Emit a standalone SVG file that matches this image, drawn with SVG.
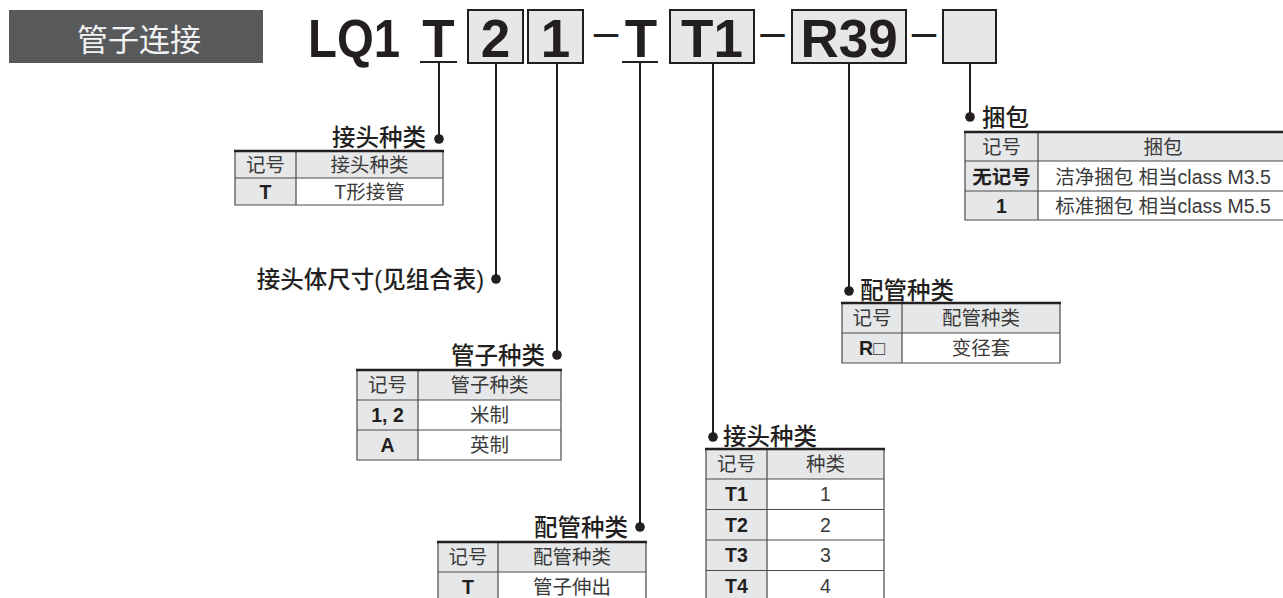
<svg xmlns="http://www.w3.org/2000/svg" width="1283" height="598" viewBox="0 0 1283 598">
<style>
text { font-family: 'Liberation Sans', 'Noto Sans CJK SC', sans-serif; }
.ttl { font-size: 23.5px; fill: #231f20; font-weight: 500; }
.cell { font-size: 19.5px; fill: #3a3a3a; text-anchor: middle; }
.key { font-weight: bold; fill: #231f20; }
.gray { fill: #e6e7e8; }
.white { fill: #ffffff; }
.grid { stroke: #4a4a4a; stroke-width: 1.2; fill: none; }
.top { stroke: #231f20; stroke-width: 2.6; }
.code { font-size: 53px; font-weight: bold; fill: #231f20; text-anchor: middle; }
.dash { font-size: 44px; fill: #231f20; text-anchor: middle; }
.box { fill: #e6e7e8; stroke: #231f20; stroke-width: 2; }
.conn { stroke: #231f20; stroke-width: 2; fill: none; }
.dot { fill: #231f20; }
</style>
<rect width="1283" height="598" fill="#ffffff"/>

<g id="heading">
  <rect x="9" y="10" width="254" height="53" fill="#58595b"/>
  <text x="139" y="51" font-size="31" fill="#f2f2f2" text-anchor="middle">管子连接</text>
</g>

<g id="model-code">
  <text x="308" y="57" font-size="53" font-weight="bold" fill="#231f20" textLength="92" lengthAdjust="spacingAndGlyphs">LQ1</text>
  <text class="code" x="438.5" y="57">T</text>
  <rect class="box" x="468" y="10" width="55" height="53"/>
  <text class="code" x="495.5" y="57">2</text>
  <rect class="box" x="528" y="10" width="55" height="53"/>
  <text class="code" x="555.5" y="57">1</text>
  <text class="dash" x="606" y="47">–</text>
  <text class="code" x="641" y="57">T</text>
  <rect class="box" x="670" y="10" width="84" height="53"/>
  <text class="code" x="712" y="57">T1</text>
  <text class="dash" x="772.5" y="47">–</text>
  <rect class="box" x="792" y="10" width="114" height="53"/>
  <text class="code" x="849" y="57">R39</text>
  <text class="dash" x="924" y="47">–</text>
  <rect class="box" x="943" y="10" width="53" height="53"/>
</g>

<g id="connectors">
  <line class="conn" x1="420" y1="62" x2="457" y2="62"/>
  <line class="conn" x1="622" y1="62" x2="658" y2="62"/>
  <line class="conn" x1="439" y1="62" x2="439" y2="139"/>
  <line class="conn" x1="496" y1="63" x2="496" y2="279"/>
  <line class="conn" x1="557" y1="63" x2="557" y2="355"/>
  <line class="conn" x1="640" y1="62" x2="640" y2="527"/>
  <line class="conn" x1="713" y1="63" x2="713" y2="437"/>
  <line class="conn" x1="849" y1="63" x2="849" y2="291"/>
  <line class="conn" x1="970" y1="63" x2="970" y2="117"/>
  <circle class="dot" cx="439" cy="139" r="4.8"/>
  <circle class="dot" cx="496" cy="279" r="4.8"/>
  <circle class="dot" cx="557" cy="355" r="4.8"/>
  <circle class="dot" cx="640" cy="527" r="4.8"/>
  <circle class="dot" cx="713" cy="437" r="4.8"/>
  <circle class="dot" cx="849" cy="291" r="4.8"/>
  <circle class="dot" cx="970" cy="117" r="4.8"/>
</g>

<g id="joint-type">
  <text class="ttl" x="426" y="146" text-anchor="end">接头种类</text>
  <rect class="gray" x="235" y="151" width="208" height="27"/>
  <rect class="gray" x="235" y="178" width="61" height="27"/>
  <rect class="white" x="296" y="178" width="147" height="27"/>
  <path class="grid" d="M235 151V205H443V151M235 178H443M296 151V205"/>
  <line class="top" x1="234" y1="151" x2="444" y2="151"/>
  <text class="cell" x="265.5" y="171.5">记号</text>
  <text class="cell" x="369.5" y="171.5">接头种类</text>
  <text class="cell key" x="265.5" y="198.5">T</text>
  <text class="cell" x="369.5" y="198.5">T形接管</text>
</g>

<g id="body-size">
  <text class="ttl" x="484" y="288" text-anchor="end">接头体尺寸(见组合表)</text>
</g>

<g id="tube-type">
  <text class="ttl" x="545" y="364" text-anchor="end">管子种类</text>
  <rect class="gray" x="357" y="370" width="204" height="30"/>
  <rect class="gray" x="357" y="400" width="61" height="60"/>
  <rect class="white" x="418" y="400" width="143" height="60"/>
  <path class="grid" d="M357 370V460H561V370M357 400H561M357 430H561M418 370V460"/>
  <line class="top" x1="356" y1="370" x2="562" y2="370"/>
  <text class="cell" x="387.5" y="392">记号</text>
  <text class="cell" x="489.5" y="392">管子种类</text>
  <text class="cell key" x="387.5" y="422">1, 2</text>
  <text class="cell" x="489.5" y="422">米制</text>
  <text class="cell key" x="387.5" y="452">A</text>
  <text class="cell" x="489.5" y="452">英制</text>
</g>

<g id="piping-type-a">
  <text class="ttl" x="628" y="536" text-anchor="end">配管种类</text>
  <rect class="gray" x="438" y="542" width="208" height="30"/>
  <rect class="gray" x="438" y="572" width="60" height="30"/>
  <rect class="white" x="498" y="572" width="148" height="30"/>
  <path class="grid" d="M438 542V602M646 542V602M438 572H646M498 542V602"/>
  <line class="top" x1="437" y1="542" x2="647" y2="542"/>
  <text class="cell" x="468" y="564">记号</text>
  <text class="cell" x="572" y="564">配管种类</text>
  <text class="cell key" x="468" y="594">T</text>
  <text class="cell" x="572" y="594">管子伸出</text>
</g>

<g id="joint-kind">
  <text class="ttl" x="723" y="445">接头种类</text>
  <rect class="gray" x="706" y="449" width="178" height="30"/>
  <rect class="gray" x="706" y="479" width="61" height="122"/>
  <rect class="white" x="767" y="479" width="117" height="122"/>
  <path class="grid" d="M706 449V601M884 449V601M706 479H884M706 509.5H884M706 540H884M706 570.5H884M767 449V601"/>
  <line class="top" x1="705" y1="449" x2="885" y2="449"/>
  <text class="cell" x="736.5" y="471">记号</text>
  <text class="cell" x="825.5" y="471">种类</text>
  <text class="cell key" x="736.5" y="501">T1</text>
  <text class="cell" x="825.5" y="501">1</text>
  <text class="cell key" x="736.5" y="531.5">T2</text>
  <text class="cell" x="825.5" y="531.5">2</text>
  <text class="cell key" x="736.5" y="562">T3</text>
  <text class="cell" x="825.5" y="562">3</text>
  <text class="cell key" x="736.5" y="592.5">T4</text>
  <text class="cell" x="825.5" y="592.5">4</text>
</g>

<g id="piping-type-r">
  <text class="ttl" x="860" y="299">配管种类</text>
  <rect class="gray" x="842" y="303" width="218" height="30"/>
  <rect class="gray" x="842" y="333" width="60" height="30"/>
  <rect class="white" x="902" y="333" width="158" height="30"/>
  <path class="grid" d="M842 303V363H1060V303M842 333H1060M902 303V363"/>
  <line class="top" x1="841" y1="303" x2="1061" y2="303"/>
  <text class="cell" x="872" y="325">记号</text>
  <text class="cell" x="981" y="325">配管种类</text>
  <text class="cell" x="872" y="355"><tspan class="key">R</tspan>□</text>
  <text class="cell" x="981" y="355">变径套</text>
</g>

<g id="packaging">
  <text class="ttl" x="982" y="126">捆包</text>
  <rect class="gray" x="965" y="132" width="325" height="29"/>
  <rect class="gray" x="965" y="161" width="73" height="59"/>
  <rect class="white" x="1038" y="161" width="252" height="59"/>
  <path class="grid" d="M1290 220H965V132M965 161H1290M965 191H1290M1038 132V220"/>
  <line class="top" x1="964" y1="132" x2="1290" y2="132"/>
  <text class="cell" x="1001.5" y="154">记号</text>
  <text class="cell" x="1163" y="154">捆包</text>
  <text class="cell key" x="1001.5" y="183.5">无记号</text>
  <text class="cell" x="1163" y="183.5">洁净捆包 相当class M3.5</text>
  <text class="cell key" x="1001.5" y="213">1</text>
  <text class="cell" x="1163" y="213">标准捆包 相当class M5.5</text>
</g>
</svg>
